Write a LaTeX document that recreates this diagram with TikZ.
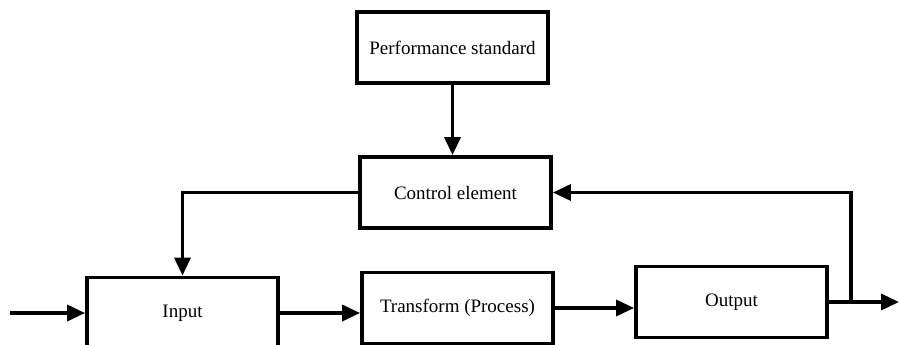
\documentclass[tikz,border=0pt]{standalone}
\usepackage{fontspec}
\setmainfont{Liberation Serif}
\usetikzlibrary{arrows.meta}
\begin{document}
\begin{tikzpicture}[x=1pt,y=-1pt,
  blockbox/.style={draw=black, line width=3.8pt, minimum width=191pt, minimum height=71pt,
    inner sep=0pt, font=\fontsize{19}{22}\selectfont, text=black},
  arr/.style={line width=3.5pt, draw=black, -{Triangle[length=18pt,width=16pt]}}]
\useasboundingbox (0,0) rectangle (899,345);
\fill[white] (0,0) rectangle (899,345);
\node[blockbox] (perf) at (452.5,47.5) {Performance standard};
\node[blockbox] (control) at (455.5,192.5) {Control element};
\node[blockbox] (input) at (182.5,313) {Input};
\node[blockbox] (transform) at (457.5,308) {Transform (Process)};
\node[blockbox] (output) at (731.5,302) {Output};
\coordinate (start) at (10,313);
\coordinate (end) at (899,302);
\coordinate (tee) at (851,302);
\draw[arr] (start) -- (input.west);
\draw[arr] (input.east) -- (input.east -| transform.west);
\draw[arr] (transform.east) -- (transform.east -| output.west);
\draw[arr] (output.east) -- (end);
\draw[arr] (tee) |- (control.east);
\draw[arr] (control.west) -| (input.north);
\draw[arr] (perf.south) -- (perf.south |- control.north);
\end{tikzpicture}
\end{document}
